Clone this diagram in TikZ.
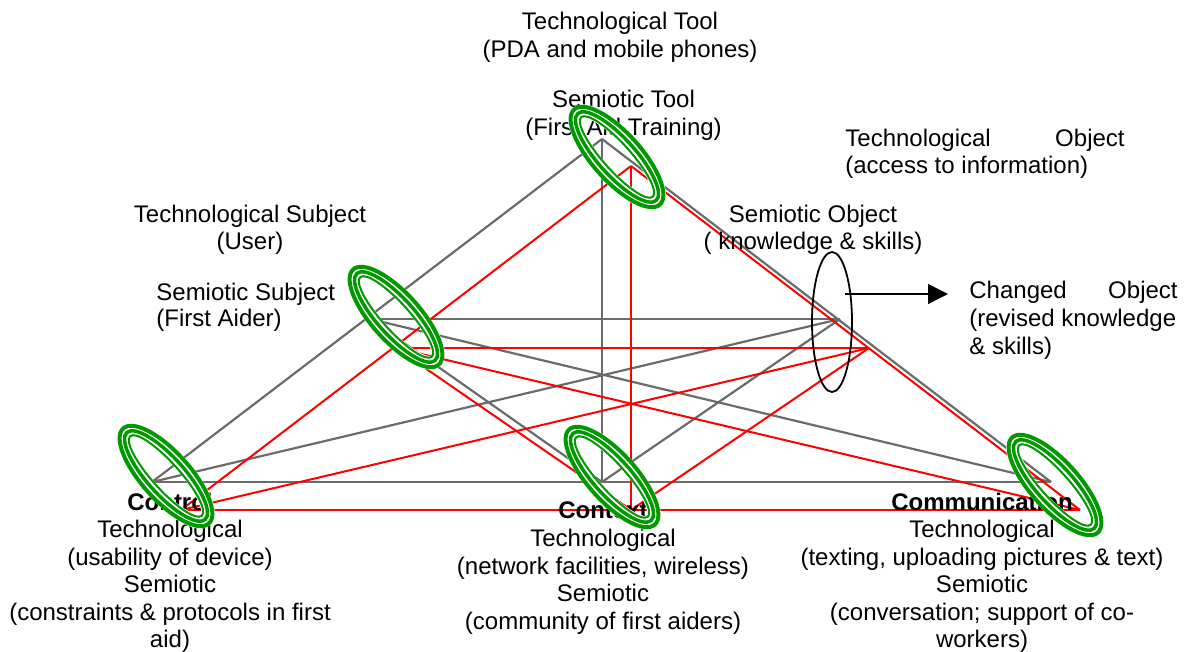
\documentclass[tikz,border=0pt]{standalone}
\usepackage{fontspec}
\setmainfont{Liberation Sans}
\usetikzlibrary{arrows.meta}
\definecolor{edgegrey}{HTML}{6B6B6B}
\definecolor{edgered}{HTML}{FF0000}
\definecolor{ringgreen}{HTML}{009900}
\tikzset{
  greyedge/.style={draw=edgegrey, line width=1.1pt},
  rededge/.style={draw=edgered, line width=1pt},
  txt/.style={inner sep=0pt, font=\fontsize{12}{14}\selectfont},
  headtxt/.style={inner sep=0pt, font=\fontsize{12}{14}\selectfont\bfseries},
  % triple green ring with white gaps between the rings
  greenring/.pic={
    \draw[white, line width=6.75pt] (0,0) ellipse [x radius=29.6pt, y radius=9.6pt];
    \draw[ringgreen, line width=2pt] (0,0) ellipse [x radius=32pt, y radius=12pt];
    \draw[ringgreen, line width=1.75pt] (0,0) ellipse [x radius=29.25pt, y radius=9.25pt];
    \draw[ringgreen, line width=1pt] (0,0) ellipse [x radius=26.75pt, y radius=6.75pt];
  },
}
\begin{document}
\begin{tikzpicture}[x=0.5pt, y=-0.5pt]
\useasboundingbox (0,0) rectangle (1189,652);

% technological (grey) triangle
\coordinate (gT) at (602,139);
\coordinate (gL) at (152,482);
\coordinate (gR) at (1051,482);
\coordinate (gC) at (602,482);
\coordinate (gS) at (370,319);
\coordinate (gO) at (840,319);
% semiotic (red) triangle
\coordinate (rT) at (631,166);
\coordinate (rL) at (181,510);
\coordinate (rR) at (1080,510);
\coordinate (rC) at (631,510);
\coordinate (rS) at (396,348);
\coordinate (rO) at (869,348);

\draw[greyedge] (gT) -- (gL);
\draw[greyedge] (gT) -- (gR);
\draw[greyedge] (gT) -- (gC);
\draw[greyedge] (gL) -- (gR);
\draw[greyedge] (gS) -- (gO);
\draw[greyedge] (gS) -- (gC);
\draw[greyedge] (gS) -- (gR);
\draw[greyedge] (gO) -- (gL);
\draw[greyedge] (gO) -- (gC);

\draw[rededge] (rT) -- (rL);
\draw[rededge] (rT) -- (rR);
\draw[rededge] (rT) -- (rC);
\draw[rededge] (rL) -- (rR);
\draw[rededge] (rS) -- (rO);
\draw[rededge] (rS) -- (rC);
\draw[rededge] (rS) -- (rR);
\draw[rededge] (rO) -- (rL);
\draw[rededge] (rO) -- (rC);

% object ellipse and the arrow to the changed object
\coordinate (objring) at (832,322);
\draw[line width=0.9pt] (objring) ellipse [x radius=10pt, y radius=35pt];
\coordinate (arrowstart) at (845,294);
\coordinate (arrowtip) at (948,294);
\draw[line width=0.7pt, -{Triangle[length=10pt, width=10pt]}] (arrowstart) -- (arrowtip);

% top labels
\node[txt, anchor=base] (techtool) at (620,30) {Technological Tool};
\node[txt, anchor=base] (techtooldesc) at (620,58) {(PDA and mobile phones)};
\node[txt, anchor=base] (semtool) at (623.5,108) {Semiotic Tool};
\node[txt, anchor=base] (semtooldesc) at (623.5,136) {(First Aid Training)};

\node[txt, anchor=base west] (techobja) at (845,147) {Technological};
\node[txt, anchor=base east] (techobjb) at (1125,147) {Object};
\node[txt, anchor=base west] (techobjdesc) at (845,174) {(access to information)};

\node[txt, anchor=base] (techsubj) at (250,223) {Technological Subject};
\node[txt, anchor=base] (techsubjdesc) at (250,250) {(User)};

\node[txt, anchor=base] (semobj) at (813,223) {Semiotic Object};
\node[txt, anchor=base] (semobjdesc) at (813,250) {( knowledge \& skills)};

\node[txt, anchor=base west] (semsubj) at (156,300) {Semiotic Subject};
\node[txt, anchor=base west] (semsubjdesc) at (156,327) {(First Aider)};

\node[txt, anchor=base west] (changeda) at (969,299) {Changed};
\node[txt, anchor=base east] (changedb) at (1178,299) {Object};
\node[txt, anchor=base west] (changedc) at (969,327) {(revised knowledge};
\node[txt, anchor=base west] (changedd) at (969,355) {\& skills)};

% bottom labels: control
\node[headtxt, anchor=base] (control) at (170,510) {Control};
\node[txt, anchor=base] (controla) at (170,537.5) {Technological};
\node[txt, anchor=base] (controlb) at (170,565) {(usability of device)};
\node[txt, anchor=base] (controlc) at (170,592.5) {Semiotic};
\node[txt, anchor=base] (controld) at (170,620) {(constraints \& protocols in first};
\node[txt, anchor=base] (controle) at (170,647.5) {aid)};

% bottom labels: context
\node[headtxt, anchor=base] (context) at (603,518.5) {Context};
\node[txt, anchor=base] (contexta) at (603,546.5) {Technological};
\node[txt, anchor=base] (contextb) at (603,574) {(network facilities, wireless)};
\node[txt, anchor=base] (contextc) at (603,601.5) {Semiotic};
\node[txt, anchor=base] (contextd) at (603,629) {(community of first aiders)};

% bottom labels: communication
\node[headtxt, anchor=base] (comm) at (982,510) {Communication};
\node[txt, anchor=base] (comma) at (982,537.5) {Technological};
\node[txt, anchor=base] (commb) at (982,565) {(texting, uploading pictures \& text)};
\node[txt, anchor=base] (commc) at (982,592.5) {Semiotic};
\node[txt, anchor=base] (commd) at (982,620) {(conversation; support of co-};
\node[txt, anchor=base] (comme) at (982,647.5) {workers)};

% green rings around the vertices
\coordinate (ringtool) at (617,157);
\coordinate (ringsubj) at (396,317);
\coordinate (ringctrl) at (166,476);
\coordinate (ringctx) at (612,477);
\coordinate (ringcomm) at (1055,485);
\pic[rotate=-48] at (ringtool) {greenring};
\pic[rotate=-48] at (ringsubj) {greenring};
\pic[rotate=-48] at (ringctrl) {greenring};
\pic[rotate=-48] at (ringctx) {greenring};
\pic[rotate=-48] at (ringcomm) {greenring};
\end{tikzpicture}
\end{document}
